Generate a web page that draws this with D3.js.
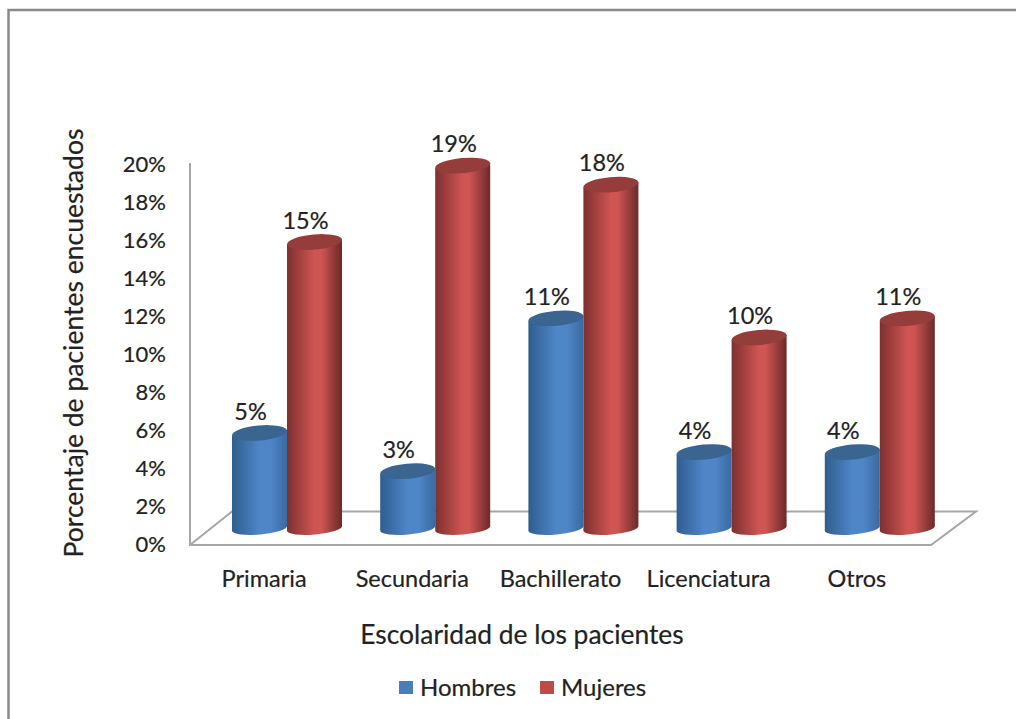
<!DOCTYPE html>
<html><head><meta charset="utf-8">
<script src="https://cdn.jsdelivr.net/npm/d3@7"></script>
<style>html,body{margin:0;padding:0;background:#fff}svg{display:block}text{font-family:Lato,"Open Sans",sans-serif;fill:#222;stroke:#222;stroke-width:.2px}</style>
</head><body><svg id="c" width="1016" height="719"></svg>
<script>
const categories=["Primaria","Secundaria","Bachillerato","Licenciatura","Otros"];
const hombres=[5,3,11,4,4];
const mujeres=[15,19,18,10,11];
const seriesNames=["Hombres","Mujeres"];
const yTicks=[0,2,4,6,8,10,12,14,16,18,20];
const xTitle="Escolaridad de los pacientes";
const yTitle="Porcentaje de pacientes encuestados";
const palette={Hombres:{edgeL:"#2f5d8e",mid:"#4f86c8",edgeR:"#3a6a9f",top:"#3a6591",key:"#4a7ebb"},
               Mujeres:{edgeL:"#7d302f",mid:"#cf5553",edgeR:"#6a2a29",top:"#943d3b",key:"#be4b48"}};

const svg=d3.select("#c");
const W=1016,H=719;
const y=d3.scaleLinear().domain([0,20]).range([543,163]);
const hgt=d3.scaleLinear().domain([0,20]).range([0,382]);
const x=d3.scaleBand().domain(categories).range([212,953]);
const sub=d3.scaleBand().domain(seriesNames).range([20,130]);
const defs=svg.append("defs");
seriesNames.forEach(s=>{
  const p=palette[s];
  const g=defs.append("linearGradient").attr("id","g"+s).attr("x1",0).attr("x2",1).attr("y1",0).attr("y2",0);
  [[0,p.edgeL],[0.5,p.mid],[s==="Mujeres"?0.62:0.7,p.mid],[1,p.edgeR]].forEach(d=>g.append("stop").attr("offset",d[0]).attr("stop-color",d[1]));
});
// frame
svg.append("path").attr("d",`M8.5,${H}V10H${W}`).attr("fill","none").attr("stroke","#8a8a8a").attr("stroke-width",2.5);
// floor + wall
const wall="#a6a6a6";
svg.append("path").attr("d","M190,163V545H931L976,511.5H232L190,545").attr("fill","none").attr("stroke",wall).attr("stroke-width",2);
// y axis
const yAxis=d3.axisLeft(y).tickValues(yTicks).tickSize(0).tickPadding(0).tickFormat(d=>d+"%");
const ga=svg.append("g").attr("transform","translate(166,1.5)").call(yAxis);
ga.select(".domain").remove();
ga.selectAll("text").attr("font-size",22);
// x axis
const xAxis=d3.axisBottom(x).tickSize(0).tickPadding(0);
const gx=svg.append("g").attr("transform","translate(-22,570)").call(xAxis);
gx.select(".domain").remove();
gx.selectAll("text").attr("font-size",23.5);
// titles
svg.append("text").attr("x",522).attr("y",644).attr("text-anchor","middle").attr("font-size",26.4).text(xTitle);
svg.append("text").attr("transform","translate(82.5,343) rotate(-90)").attr("text-anchor","middle").attr("font-size",26.5).text(yTitle);
// cylinders
const rows=categories.flatMap((c,i)=>[{c,s:"Hombres",v:hombres[i]},{c,s:"Mujeres",v:mujeres[i]}]);
const base=531;
const rx=sub.bandwidth()/2, tilt=5;
const g=svg.selectAll("g.cyl").data(rows).join("g").attr("class","cyl");
g.append("path").attr("fill",d=>`url(#g${d.s})`).attr("d",d=>{
  const x0=x(d.c)+sub(d.s),x1=x0+sub.bandwidth(),h=hgt(d.v);
  return `M${x0},${base}V${base-h}L${x1},${base-h-tilt}V${base-tilt}A${rx},6 -5 0 1 ${x0},${base}Z`;
});
g.append("path").attr("fill",d=>palette[d.s].top).attr("d",d=>{
  const x0=x(d.c)+sub(d.s),x1=x0+sub.bandwidth(),h=hgt(d.v);
  return `M${x0},${base-h}A${rx},7.5 -5 1 1 ${x1},${base-h-tilt}A${rx},7.5 -5 1 1 ${x0},${base-h}Z`;
});
g.append("text").attr("text-anchor","middle").attr("font-size",23.5)
 .attr("x",d=>x(d.c)+sub(d.s)+rx-9)
 .attr("y",d=>base-hgt(d.v)-16)
 .text(d=>d.v+"%");
// legend
const lx=d3.scaleOrdinal().domain(seriesNames).range([399,540]);
const lg=svg.selectAll("g.leg").data(seriesNames).join("g").attr("class","leg").attr("transform",d=>`translate(${lx(d)},681)`);
lg.append("rect").attr("width",14).attr("height",13).attr("fill",d=>palette[d].key);
lg.append("text").attr("x",21).attr("y",15).attr("font-size",24).text(d=>d);
</script></body></html>
